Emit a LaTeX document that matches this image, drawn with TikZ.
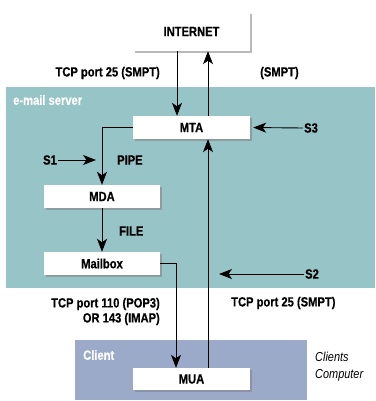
\documentclass[tikz,border=0pt]{standalone}
\usepackage{fontspec}
\setmainfont[FakeStretch=0.84]{Liberation Sans}
\usetikzlibrary{arrows.meta,shadows}
\definecolor{srv}{HTML}{97C4C7}
\definecolor{cli}{HTML}{9CAACA}
\begin{document}
\begin{tikzpicture}[x=1pt,y=-1pt,
  font=\fontsize{13.3}{15}\selectfont\bfseries\addfontfeature{FakeBold=0.5},
  box/.style={draw=none,fill=white,minimum width=117pt,minimum height=23pt,inner sep=0pt,
    drop shadow={opacity=0.55,shadow xshift=2pt,shadow yshift=-2pt}},
  lbl/.style={inner sep=1pt},
  arr/.style={line width=0.9pt,-{Stealth[length=13pt,width=10pt,inset=3.5pt]}},
  area/.style={text=white,inner sep=0pt,anchor=west}]
\useasboundingbox (0,0) rectangle (375,401);
% regions
\fill[srv] (6,87) rectangle (375,288);
\fill[cli] (75,340) rectangle (307,400);
\node[area] (srvlbl) at (13,100) {e-mail server};
\node[area] (clilbl) at (83,355) {Client};
% boxes
\node[box,minimum height=39pt] (INT) at (191.5,31.5) {INTERNET};
\node[box] (MTA) at (191.5,127.5) {MTA};
\node[box,minimum width=116pt] (MDA) at (102,196.5) {MDA};
\node[box,minimum width=116pt] (MB) at (102,263.5) {Mailbox};
\node[box,minimum height=22pt] (MUA) at (191.5,379) {MUA};
% side labels
\node[lbl,anchor=east] (tcp1) at (161,73) {TCP port 25 (SMPT)};
\node[lbl,anchor=west] (smpt) at (259,73) {(SMPT)};
\node[lbl,anchor=west] (pipe) at (116,160) {PIPE};
\node[lbl,anchor=west] (file) at (118,231) {FILE};
\node[lbl,anchor=east,align=right] (pop) at (161,311.5) {TCP port 110 (POP3)\\OR 143 (IMAP)};
\node[lbl,anchor=west] (tcp2) at (230,303) {TCP port 25 (SMPT)};
\node[lbl,anchor=west,align=left,font=\fontsize{13}{17}\selectfont\itshape] (cc) at (314,366.5) {Clients\\Computer};
\node[lbl,anchor=west] (S3) at (303,128) {S3};
\node[lbl,anchor=east] (S1) at (58,160) {S1};
\node[lbl,anchor=west] (S2) at (304,274) {S2};
\coordinate (s1end) at (96,160);
\coordinate (s2end) at (219,274);
% connectors
\draw[arr] ([xshift=-14.5pt]INT.south) -- ([xshift=-14.5pt]MTA.north);
\draw[arr] ([xshift=16.5pt]MTA.north) -- ([xshift=16.5pt]INT.south);
\draw[arr] (MTA.west) -| (MDA.north);
\draw[arr] (MDA.south) -- (MB.north);
\draw[arr] (MB.east) -| ([xshift=-15.5pt]MUA.north);
\draw[arr] ([xshift=16.5pt]MUA.north) -- ([xshift=16.5pt]MTA.south);
\draw[arr,shorten >=3pt] (S3.west) -- (MTA.east);
\draw[arr] (S1.east) -- (s1end);
\draw[arr] (S2.west) -- (s2end);
\end{tikzpicture}
\end{document}
